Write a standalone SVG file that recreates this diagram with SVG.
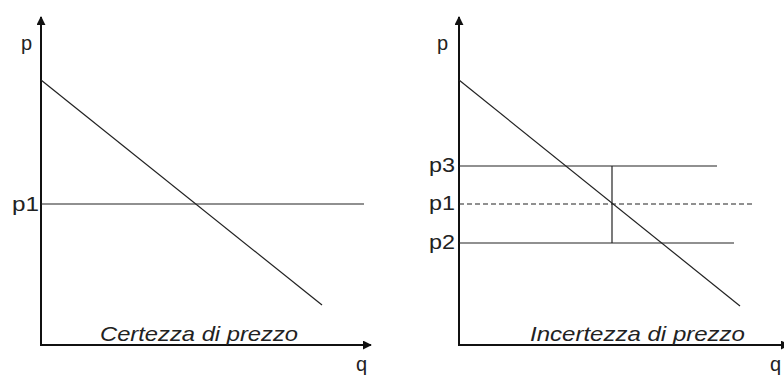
<svg xmlns="http://www.w3.org/2000/svg" width="784" height="377" viewBox="0 0 784 377">
<style>
.axis{stroke:#111;stroke-width:2;fill:none}
.ln{stroke:#222;stroke-width:1.2;fill:none}
.dash{stroke:#222;stroke-width:1.2;stroke-dasharray:5 3;fill:none}
.lbl{font-family:"Liberation Sans",Arial,sans-serif;font-size:20px;fill:#222}
.cap{font-family:"Liberation Sans",Arial,sans-serif;font-size:21px;font-style:italic;fill:#222}
</style>
<defs>
<marker id="arr" viewBox="0 0 10 10" refX="9" refY="5" markerWidth="4.5" markerHeight="4.5" markerUnits="strokeWidth" orient="auto">
<path d="M0,0 L10,5 L0,10 z" fill="#111"/>
</marker>
</defs>
<rect width="784" height="377" fill="#fff"/>
<g id="left-chart">
<g id="connectors-left">
<line class="axis" x1="41" y1="346" x2="41" y2="17" marker-end="url(#arr)"/>
<line class="axis" x1="40" y1="345" x2="371" y2="345" marker-end="url(#arr)"/>
<line class="ln" x1="41" y1="80" x2="322" y2="305"/>
<line class="ln" x1="41" y1="204" x2="364" y2="204"/>
</g>
<text class="lbl" x="21" y="50">p</text>
<text class="lbl" x="12" y="211" textLength="27" lengthAdjust="spacingAndGlyphs">p1</text>
<text class="lbl" x="356" y="371">q</text>
<text class="cap" x="100" y="341" textLength="198" lengthAdjust="spacingAndGlyphs">Certezza di prezzo</text>
</g>
<g id="right-chart">
<g id="connectors-right">
<line class="axis" x1="459" y1="346" x2="459" y2="17" marker-end="url(#arr)"/>
<line class="axis" x1="458" y1="345" x2="789" y2="345" marker-end="url(#arr)"/>
<line class="ln" x1="459" y1="80" x2="740" y2="306"/>
<line class="ln" x1="459" y1="166" x2="717" y2="166"/>
<line class="dash" x1="459" y1="204" x2="754" y2="204"/>
<line class="ln" x1="459" y1="243" x2="734" y2="243"/>
<line class="ln" x1="612" y1="166" x2="612" y2="243"/>
</g>
<text class="lbl" x="437" y="50">p</text>
<text class="lbl" x="429" y="172" textLength="26" lengthAdjust="spacingAndGlyphs">p3</text>
<text class="lbl" x="429" y="210" textLength="26" lengthAdjust="spacingAndGlyphs">p1</text>
<text class="lbl" x="429" y="249" textLength="26" lengthAdjust="spacingAndGlyphs">p2</text>
<text class="lbl" x="770" y="371">q</text>
<text class="cap" x="530" y="341" textLength="215" lengthAdjust="spacingAndGlyphs">Incertezza di prezzo</text>
</g>
</svg>
